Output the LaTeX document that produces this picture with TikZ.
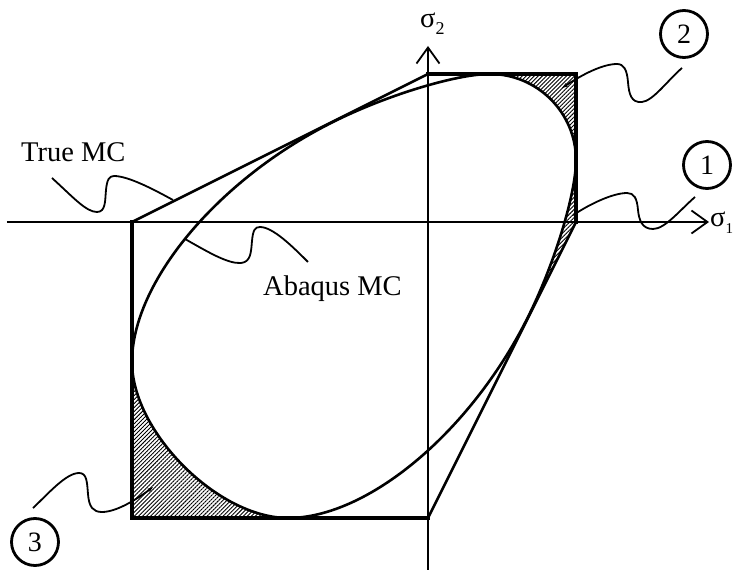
\documentclass[tikz,border=0pt]{standalone}
\usepackage{fontspec}
\setmainfont{Liberation Serif}
\usetikzlibrary{arrows.meta,patterns.meta}
\begin{document}
\begin{tikzpicture}[x=1pt,y=1pt,
  axis/.style={line width=1.8pt,-{Straight Barb[length=16pt,width=23pt]}},
  mcline/.style={line width=2.6pt,line join=miter},
  mcedge/.style={line width=3.8pt,line cap=rect},
  abq/.style={line width=2.6pt},
  leader/.style={line width=1.8pt},
  hatch/.style={pattern={Lines[angle=45,distance=2.85pt,line width=0.9pt]}},
  num/.style={draw,circle,line width=2.8pt,minimum size=47pt,inner sep=0pt,font=\fontsize{28}{28}\selectfont},
  lbl/.style={font=\fontsize{28.5}{30}\selectfont,inner sep=0pt},
  tip/.style={-{Stealth[length=6pt,width=4pt]}}
]
\useasboundingbox (-428,-348) rectangle (306,222);

% hatched regions
\path[hatch] (148,148) -- (62,148) .. controls (109.3,148) and (148,109.3) .. (148,62) -- cycle;
\path[hatch] (-296,-296) -- (-296,-140) .. controls (-296,-210) and (-210,-296) .. (-140,-296) -- cycle;
\path[hatch] (148,62) -- (148,0) -- (99,-97) .. controls (126,-44) and (148,28) .. (148,62) -- cycle;

% axes
\coordinate (xs) at (-421,0);
\coordinate (xe) at (281,0);
\coordinate (ys) at (0,-350);
\coordinate (ye) at (0,176);
\draw[axis] (xs) -- (xe);
\draw[axis] (ys) -- (ye);

% true Mohr-Coulomb hexagon
\coordinate (h1) at (-296,0);
\coordinate (h2) at (0,148);
\coordinate (h3) at (148,148);
\coordinate (h4) at (148,0);
\coordinate (h5) at (0,-296);
\coordinate (h6) at (-296,-296);
\draw[mcline] (h1) -- (h2) -- (h3) -- (h4) -- (h5) -- (h6) -- cycle;
\draw[mcedge] (h2) -- (h3) -- (h4);
\draw[mcedge] (h5) -- (h6) -- (h1);

% Abaqus MC smooth surface
\draw[abq] (148,62) .. controls (148,109.3) and (109.3,148) .. (62,148)
 .. controls (28,148) and (-44,126) .. (-97,99)
 .. controls (-210,42) and (-296,-60) .. (-296,-140)
 .. controls (-296,-210) and (-210,-296) .. (-140,-296)
 .. controls (-60,-296) and (42,-210) .. (99,-97)
 .. controls (126,-43.6) and (148,28) .. (148,62) -- cycle;

% axis labels
\node[lbl,anchor=base west] (s2) at (-8,194) {σ\raisebox{-7pt}{\fontsize{18}{18}\selectfont 2}};
\node[lbl,anchor=base west] (s1) at (282,-5) {σ\raisebox{-7pt}{\fontsize{15}{15}\selectfont 1}};

% text labels
\node[lbl,anchor=base west] (tmc) at (-407,60) {True MC};
\node[lbl,anchor=base west] (amc) at (-165,-74) {Abaqus MC};

% numbered circles
\node[num] (c1) at (279,57) {1};
\node[num] (c2) at (256,188) {2};
\node[num] (c3) at (-393,-320) {3};

% leader lines
\coordinate (t1s) at (-376,44);
\coordinate (t1e) at (-255,22);
\draw[leader] (t1s) .. controls (-355,25) and (-342,10) .. (-331,10)
  .. controls (-322,10) and (-323,22) .. (-322,32)
  .. controls (-321,42) and (-319,46) .. (-314,46)
  .. controls (-300,46) and (-275,33) .. (t1e);

\coordinate (a1s) at (-243,-17);
\coordinate (a1e) at (-120,-40);
\draw[leader] (a1s) .. controls (-220,-30) and (-200,-42) .. (-187,-41)
  .. controls (-177,-40) and (-177,-30) .. (-176,-19)
  .. controls (-175,-8) and (-173,-5) .. (-168,-5)
  .. controls (-155,-5) and (-135,-25) .. (a1e);

\coordinate (l2s) at (254,154);
\coordinate (l2e) at (134,134);
\draw[leader,tip] (l2s) .. controls (240,142) and (225,121) .. (214,120)
  .. controls (203,119) and (201,128) .. (200,140)
  .. controls (199,152) and (196,158) .. (189,158)
  .. controls (175,158) and (155,148) .. (l2e);

\coordinate (l1s) at (267,25);
\coordinate (l1e) at (144,6);
\draw[leader,tip] (l1s) .. controls (252,12) and (237,-7) .. (225,-7)
  .. controls (214,-7) and (211,2) .. (210,12)
  .. controls (209,24) and (206,29) .. (199,29)
  .. controls (185,29) and (162,18) .. (l1e);

\coordinate (l3s) at (-395,-286);
\coordinate (l3e) at (-275,-265);
\draw[leader,tip] (l3s) .. controls (-380,-272) and (-362,-251) .. (-349,-251)
  .. controls (-341,-251) and (-341,-260) .. (-340,-272)
  .. controls (-339,-285) and (-335,-290) .. (-326,-290)
  .. controls (-312,-290) and (-292,-278) .. (l3e);
\end{tikzpicture}
\end{document}
